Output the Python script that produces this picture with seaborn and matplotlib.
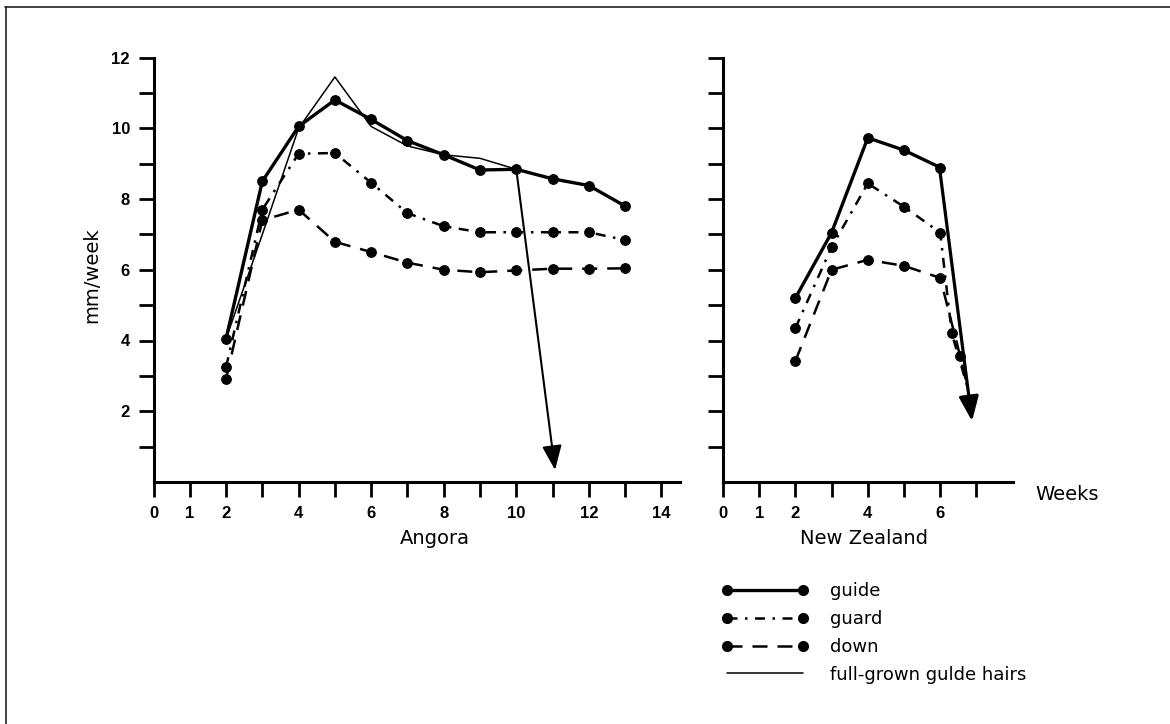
import matplotlib
matplotlib.use('Agg')
import matplotlib.pyplot as plt
from matplotlib.lines import Line2D
import seaborn as sns

# Angora, weeks 2-13 (mm/week)
angora_weeks = [2, 3, 4, 5, 6, 7, 8, 9, 10, 11, 12, 13]
angora_guide = [4.05, 8.5, 10.05, 10.8, 10.25, 9.65, 9.25, 8.82, 8.84, 8.57, 8.38, 7.8]
angora_guard = [3.25, 7.7, 9.28, 9.3, 8.46, 7.6, 7.23, 7.06, 7.06, 7.06, 7.06, 6.84]
angora_down = [2.92, 7.4, 7.7, 6.79, 6.5, 6.2, 6.0, 5.93, 5.98, 6.03, 6.03, 6.04]
angora_full_weeks = [2, 3, 4, 5, 6, 7, 8, 9, 10]
angora_full = [4.05, 7.0, 10.0, 11.45, 10.05, 9.5, 9.25, 9.15, 8.84]
angora_arrow_weeks = [10, 11.07]
angora_arrow_vals = [8.84, 0.34]

# New Zealand
nz_weeks = [2, 3, 4, 5, 6]
nz_guide = [5.2, 7.05, 9.73, 9.38, 8.89]
nz_guard_weeks = [2, 3, 4, 5, 6, 6.32, 6.75]
nz_guard = [4.35, 6.64, 8.44, 7.78, 7.05, 4.2, 2.7]
nz_down_weeks = [2, 3, 4, 5, 6, 6.55, 6.75]
nz_down = [3.42, 6.0, 6.28, 6.11, 5.77, 3.56, 2.7]
nz_arrow_weeks = [5.98, 6.88]
nz_arrow_vals = [8.89, 1.72]

legend_labels = ['guide', 'guard', 'down', 'full-grown gulde hairs']

sns.set_style('ticks')
plt.rcParams['font.family'] = ['DejaVu Sans']
plt.rcParams['text.color'] = 'black'
plt.rcParams['axes.edgecolor'] = 'black'
plt.rcParams['xtick.color'] = 'black'
plt.rcParams['ytick.color'] = 'black'

W, H = 1170, 724
fig = plt.figure(figsize=(W / 100, H / 100), dpi=100)
ax1 = fig.add_axes([153.5 / W, (H - 482) / H, 526 / W, 424.5 / H])
ax2 = fig.add_axes([723 / W, (H - 482) / H, 289.6 / W, 424.5 / H])

guide_kw = dict(color='black', linestyle='-', linewidth=2.4, marker='o', markersize=7,
                mec='black', mfc='black')
guard_kw = dict(color='black', linestyle=(0, (4, 3, 1, 3)), linewidth=1.8, marker='o',
                markersize=7, mec='black', mfc='black')
down_kw = dict(color='black', linestyle=(0, (6, 4)), linewidth=1.8, marker='o',
               markersize=7, mec='black', mfc='black')
full_kw = dict(color='black', linestyle='-', linewidth=1.1)

# Angora
sns.lineplot(x=angora_full_weeks, y=angora_full, ax=ax1, errorbar=None, **full_kw)
sns.lineplot(x=angora_weeks, y=angora_down, ax=ax1, errorbar=None, **down_kw)
sns.lineplot(x=angora_weeks, y=angora_guard, ax=ax1, errorbar=None, **guard_kw)
sns.lineplot(x=angora_weeks, y=angora_guide, ax=ax1, errorbar=None, **guide_kw)
ax1.annotate('', xy=(angora_arrow_weeks[1], angora_arrow_vals[1]),
             xytext=(angora_arrow_weeks[0], angora_arrow_vals[0]),
             arrowprops=dict(arrowstyle='-|>,head_length=0.75,head_width=0.3',
                             color='black', lw=1.5, shrinkA=0, shrinkB=0,
                             mutation_scale=20))

# New Zealand
sns.lineplot(x=nz_down_weeks, y=nz_down, ax=ax2, errorbar=None, markevery=list(range(6)), **down_kw)
sns.lineplot(x=nz_guard_weeks, y=nz_guard, ax=ax2, errorbar=None, markevery=list(range(6)), **guard_kw)
sns.lineplot(x=nz_weeks, y=nz_guide, ax=ax2, errorbar=None, **guide_kw)
ax2.annotate('', xy=(nz_arrow_weeks[1], nz_arrow_vals[1]),
             xytext=(nz_arrow_weeks[0], nz_arrow_vals[0]),
             arrowprops=dict(arrowstyle='-|>,head_length=0.75,head_width=0.3',
                             color='black', lw=2.3, shrinkA=0, shrinkB=0,
                             mutation_scale=20))

ylabels = ['' if (v % 2 or v == 0) else str(v) for v in range(1, 13)]
for ax, xmax, nmax in [(ax1, 14.5, 14), (ax2, 8.0, 7)]:
    ax.set_xlim(0, xmax)
    ax.set_ylim(0, 12)
    sns.despine(ax=ax)
    for s in ['left', 'bottom']:
        ax.spines[s].set_linewidth(2.2)
        ax.spines[s].set_color('black')
    ax.set_xticks(range(0, nmax + 1))
    ax.set_xticklabels([str(v) if (v <= 2 or v % 2 == 0) and not (nmax == 7 and v == 7) else ''
                        for v in range(0, nmax + 1)])
    ax.set_yticks(range(1, 13))
    ax.set_yticklabels(ylabels if ax is ax1 else [''] * 12)
    ax.tick_params(direction='out', length=11, width=2, labelsize=12, pad=6,
                   color='black', labelcolor='black')
    for lbl in ax.get_xticklabels() + ax.get_yticklabels():
        lbl.set_fontfamily('Liberation Sans')
        lbl.set_fontweight('bold')
    ax.set_xlabel('')
    ax.set_ylabel('')

fig.text(92 / W, 1 - 275 / H, 'mm/week', rotation=90, ha='center', va='center', fontsize=14)
fig.text(435 / W, 1 - 538 / H, 'Angora', ha='center', va='center', fontsize=14)
fig.text(864 / W, 1 - 538 / H, 'New Zealand', ha='center', va='center', fontsize=14)
fig.text(1035 / W, 1 - 495 / H, 'Weeks', ha='left', va='center', fontsize=14)

handles = [Line2D([], [], **guide_kw), Line2D([], [], **guard_kw),
           Line2D([], [], **down_kw), Line2D([], [], **full_kw)]
fig.legend(handles, legend_labels, loc='upper left', bbox_to_anchor=(721.7 / W, 1 - 582 / H),
           frameon=False, fontsize=13, handlelength=4.8, handletextpad=1.2,
           labelspacing=0.55, borderpad=0, borderaxespad=0, numpoints=2)

# scanned page border
fig.add_artist(Line2D([6 / W, 6 / W], [0, 1 - 7 / H], transform=fig.transFigure, color='#222222', lw=1.2))
fig.add_artist(Line2D([5 / W, 1], [1 - 7 / H, 1 - 7 / H], transform=fig.transFigure, color='#222222', lw=1.2))

fig.savefig('out.png', dpi=100)
